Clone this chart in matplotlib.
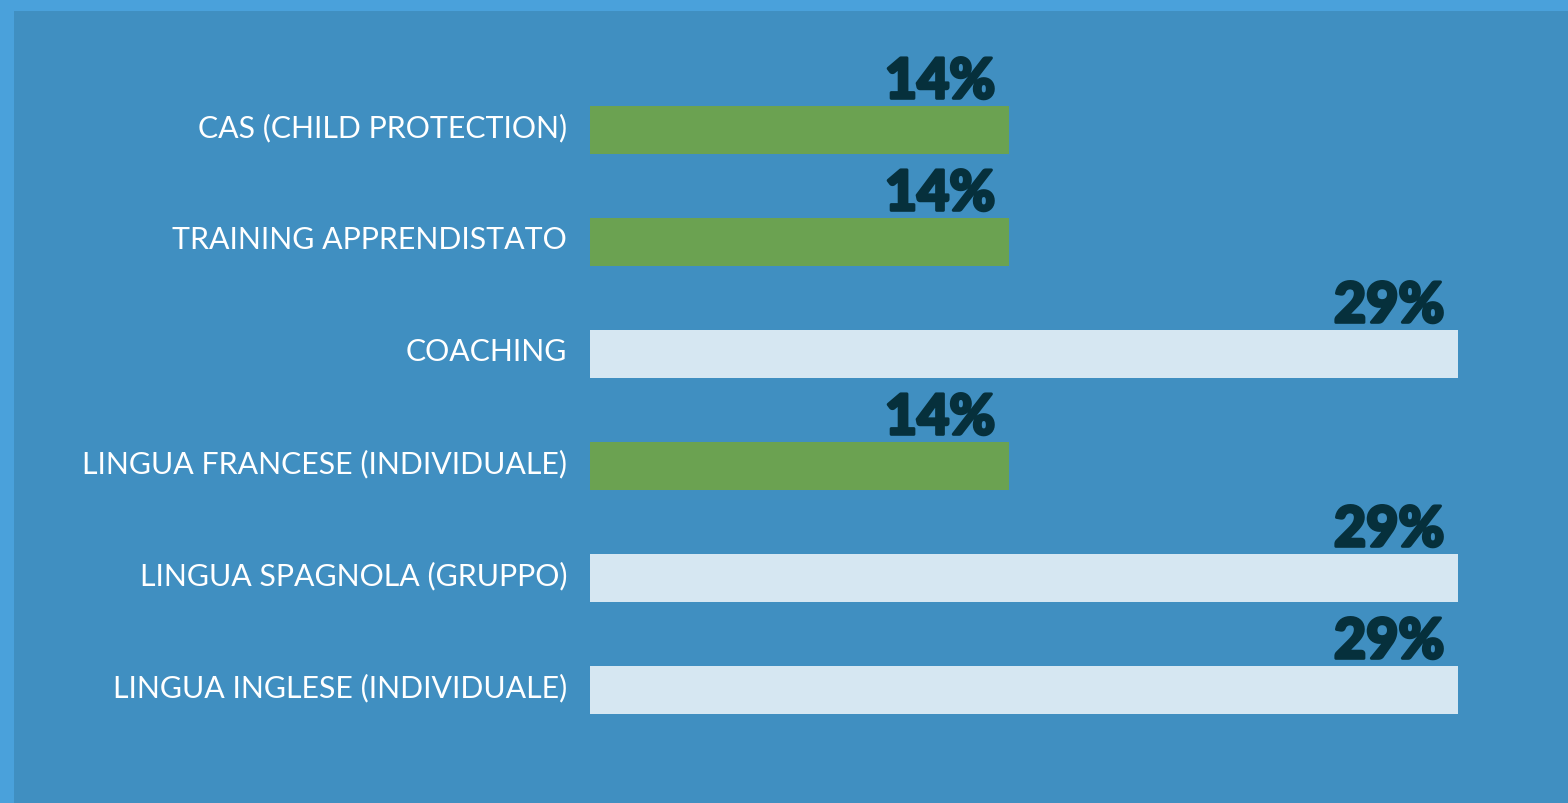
import matplotlib
matplotlib.use("Agg")
import matplotlib.pyplot as plt
import matplotlib.patheffects as pe
from matplotlib.patches import Rectangle

# data
categories = [
    "CAS (CHILD PROTECTION)",
    "TRAINING APPRENDISTATO",
    "COACHING",
    "LINGUA FRANCESE (INDIVIDUALE)",
    "LINGUA SPAGNOLA (GRUPPO)",
    "LINGUA INGLESE (INDIVIDUALE)",
]
values = [14, 14, 29, 14, 29, 29]
value_labels = ["14%", "14%", "29%", "14%", "29%", "29%"]

# colours
outer_bg = "#4aa1db"
inner_bg = "#408fc1"
green = "#6ba251"
light = "#d6e7f2"
dark_text = "#06303c"

W, H = 1568, 804
fig = plt.figure(figsize=(W / 100, H / 100), dpi=100, facecolor=outer_bg)
# inner panel, leaves a strip of the lighter blue on top and left
fig.patches.append(Rectangle((14 / W, 0), 1, (H - 12) / H, transform=fig.transFigure,
                             facecolor=inner_bg, edgecolor="none", zorder=-1))

ax = fig.add_axes([590 / W, 1 - 747 / H, 868 / W, 672 / H])
ax.set_facecolor("none")
ax.set_zorder(2)

colors = [light if v == max(values) else green for v in values]
ypos = list(range(len(categories)))
bar_h = 0.43
ax.barh(ypos, values, height=bar_h, color=colors, edgecolor="none")

ax.set_xlim(0, 29)
ax.set_ylim(len(categories) - 0.5, -0.5)
ax.axis("off")

# thicken the bold face a little
heavy = [pe.withStroke(linewidth=2.2, foreground=dark_text)]

for y, v, lab, cat in zip(ypos, values, value_labels, categories):
    # value above the bar end
    ax.annotate(lab, xy=(v, y - bar_h / 2), xytext=(-10, 5.5), textcoords="offset points",
                ha="right", va="baseline", fontsize=40, fontweight="black",
                family="Lato", color=dark_text, path_effects=heavy,
                annotation_clip=False)
    # category name left of the bar
    ax.annotate(cat, xy=(0, y), xytext=(-16.5, 2), textcoords="offset points",
                ha="right", va="center", fontsize=21.8, fontweight="normal",
                family="Lato", color="white", annotation_clip=False)

fig.savefig("out.png", dpi=100, facecolor=fig.get_facecolor())
